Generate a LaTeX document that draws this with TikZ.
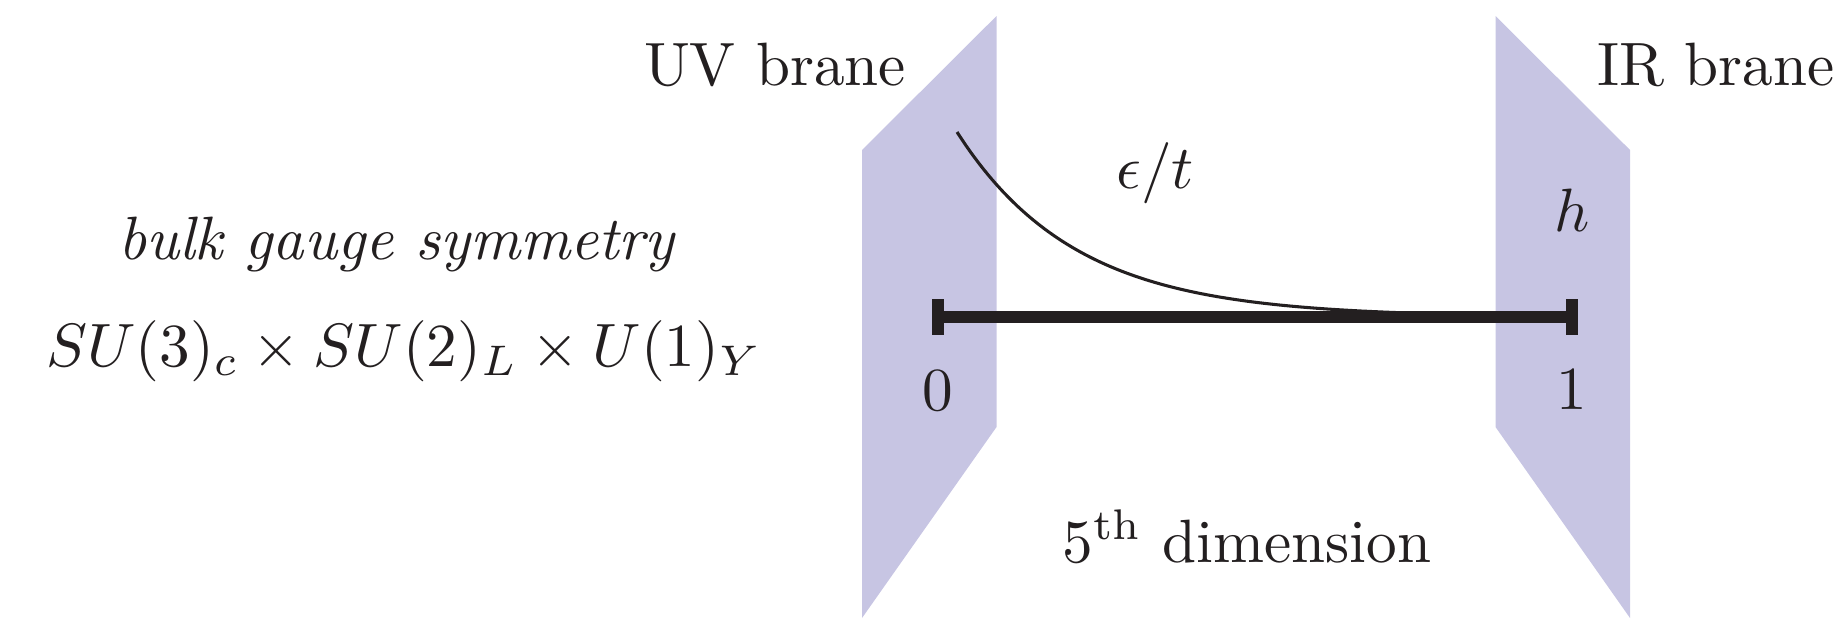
\documentclass[tikz,border=0pt]{standalone}
\definecolor{brane}{RGB}{199,197,227}
\definecolor{ink}{RGB}{35,31,32}
\begin{document}
\begin{tikzpicture}[x=0.1634pt,y=-0.1634pt,
  lbl/.style={inner sep=0pt, anchor=base, text=ink},
  branefill/.style={fill=brane},
  bar/.style={draw=ink, line width=1.9pt},
  capline/.style={draw=ink, line width=1.9pt},
  wave/.style={draw=ink, line width=0.5pt}]
\useasboundingbox (0,0) rectangle (1836,618);
% branes
\fill[branefill] (862,150) -- (996.5,16) -- (996.5,427) -- (862,618) -- cycle;
\fill[branefill] (1495.5,16) -- (1630,150) -- (1630,618) -- (1495.5,427) -- cycle;
% interval
\coordinate (L) at (938,317);
\coordinate (R) at (1572,317);
\path[bar] (L) -- (R);
\path[capline] (L) ++(0,-18) -- ++(0,36);
\path[capline] (R) ++(0,-18) -- ++(0,36);
% profile
\path[wave] plot[domain=957:1480, samples=120] (\x,{317-185*exp(-(\x-957)/118)});
% labels
\node[lbl] (uv) at (775,85) {UV brane};
\node[lbl] (ir) at (1716,85) {IR brane};
\node[lbl] (eps) at (1155,188) {$\epsilon/t$};
\node[lbl] (h) at (1572,231) {$h$};
\node[lbl] (zero) at (938,410) {$0$};
\node[lbl] (one) at (1572,409) {$1$};
\node[lbl] (dim) at (1247,562) {$5^{\mathrm{th}}$ dimension};
\node[lbl] (bulk) at (397,259) {\textit{bulk gauge symmetry}};
\node[lbl] (grp) at (404,366) {$SU(3)_c\times SU(2)_L\times U(1)_Y$};
\end{tikzpicture}
\end{document}
